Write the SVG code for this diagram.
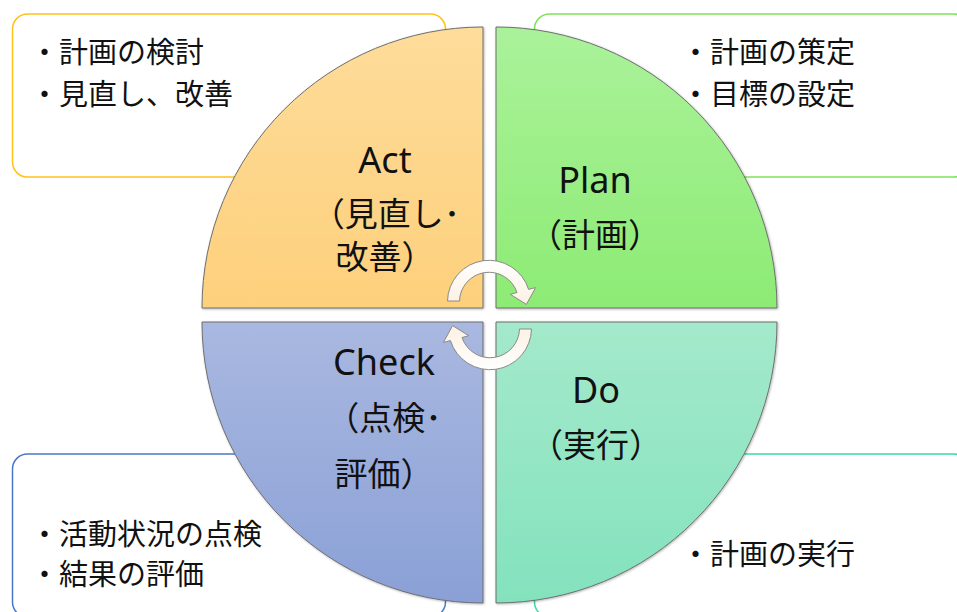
<svg xmlns="http://www.w3.org/2000/svg" width="957" height="612" viewBox="0 0 957 612">
<defs>
<linearGradient id="gAct" x1="0" y1="0" x2="0" y2="1"><stop offset="0" stop-color="#FEDC9A"/><stop offset="1" stop-color="#FDD07C"/></linearGradient>
<linearGradient id="gPlan" x1="0" y1="0" x2="0" y2="1"><stop offset="0" stop-color="#AAF29A"/><stop offset="1" stop-color="#8DEB74"/></linearGradient>
<linearGradient id="gCheck" x1="0" y1="0" x2="0" y2="1"><stop offset="0" stop-color="#A9B8E0"/><stop offset="1" stop-color="#8AA0D6"/></linearGradient>
<linearGradient id="gDo" x1="0" y1="0" x2="0" y2="1"><stop offset="0" stop-color="#A4E9CB"/><stop offset="1" stop-color="#83E2BD"/></linearGradient>
<linearGradient id="gArr" x1="0" y1="0" x2="0" y2="1"><stop offset="0" stop-color="#FFFFFF"/><stop offset="1" stop-color="#FCF1E2"/></linearGradient>
<filter id="sh" x="-5%" y="-5%" width="110%" height="110%"><feDropShadow dx="0.8" dy="0.8" stdDeviation="0.8" flood-color="#000" flood-opacity="0.3"/></filter>
</defs>
<style>
.box{fill:#FFFFFF;stroke-width:1.5}
.q{stroke:#6E6E6E;stroke-width:1;filter:url(#sh)}
.bt{font-family:"Noto Sans CJK JP",sans-serif;font-size:29px;fill:#111}
.lat{font-family:"Noto Sans","Noto Sans CJK JP",sans-serif;font-size:36px;fill:#111;text-anchor:middle}
.jp{font-family:"Noto Sans CJK JP",sans-serif;font-size:33px;fill:#111;text-anchor:middle}
.arr{fill:url(#gArr);stroke:#8A8A8A;stroke-width:1}
</style>
<g id="box-act"><rect class="box" x="12.5" y="14" width="433" height="163" rx="15" stroke="#FFC21A"/>
<text class="bt" x="30" y="63">・計画の検討</text><text class="bt" x="30" y="105">・見直し、改善</text></g>
<g id="box-plan"><rect class="box" x="534.5" y="14" width="434" height="163" rx="15" stroke="#7EE35C"/>
<text class="bt" x="681" y="63">・計画の策定</text><text class="bt" x="681" y="105">・目標の設定</text></g>
<g id="box-check"><rect class="box" x="12.5" y="454" width="433" height="163" rx="15" stroke="#4A78C8"/>
<text class="bt" x="30" y="545">・活動状況の点検</text><text class="bt" x="30" y="585">・結果の評価</text></g>
<g id="box-do"><rect class="box" x="534.5" y="454" width="434" height="163" rx="15" stroke="#3DD9A2"/>
<text class="bt" x="681" y="565">・計画の実行</text></g>
<g id="act"><path class="q" d="M483 308 L202 308 A281 281 0 0 1 483 27 Z" fill="url(#gAct)"/>
<text class="lat" x="385" y="173">Act</text><text class="jp" x="386" y="226">（見直し･</text><text class="jp" x="385" y="269">改善）</text></g>
<g id="plan"><path class="q" d="M496 308 L496 27 A281 281 0 0 1 777 308 Z" fill="url(#gPlan)"/>
<text class="lat" x="595" y="193">Plan</text><text class="jp" x="595" y="247">（計画）</text></g>
<g id="check"><path class="q" d="M483 322 L483 603 A281 281 0 0 1 202 322 Z" fill="url(#gCheck)"/>
<text class="lat" x="384" y="375">Check</text><text class="jp" x="384" y="430">（点検･</text><text class="jp" x="384" y="486">評価）</text></g>
<g id="do"><path class="q" d="M496 322 L777 322 A281 281 0 0 1 496 603 Z" fill="url(#gDo)"/>
<text class="lat" x="596" y="403">Do</text><text class="jp" x="596" y="457">（実行）</text></g>
<g id="connectors">
<path id="arrow-top" class="arr" d="M447.5 301 A41.5 41.5 0 0 1 528.6 289.4 L535.6 287.6 L526.4 304.4 L510.3 294.3 L517 292.5 A29.5 29.5 0 0 0 459.5 301 Z"/>
<path id="arrow-bottom" class="arr" transform="rotate(180 489.5 315)" d="M447.5 301 A41.5 41.5 0 0 1 528.6 289.4 L535.6 287.6 L526.4 304.4 L510.3 294.3 L517 292.5 A29.5 29.5 0 0 0 459.5 301 Z"/>
</g>
</svg>
